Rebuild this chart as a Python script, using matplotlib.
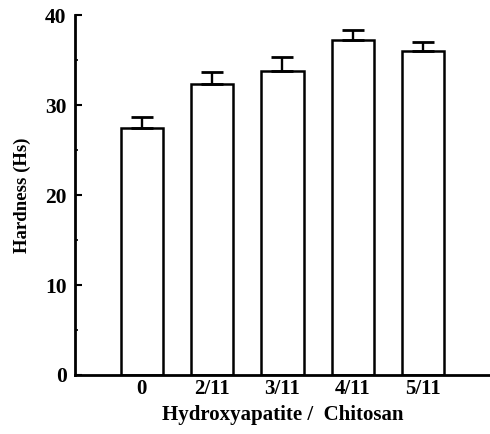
import numpy as np
import matplotlib.pyplot as plt
from matplotlib.ticker import MultipleLocator

# Hardness vs. hydroxyapatite/chitosan ratio
ratios = ['0', '2/11', '3/11', '4/11', '5/11']
hardness = [27.5, 32.3, 33.85, 37.25, 36.0]
err = [1.2, 1.4, 1.5, 1.1, 1.0]

plt.rcParams['font.family'] = ['Liberation Serif', 'DejaVu Serif']
plt.rcParams['font.weight'] = 'bold'

fig = plt.figure(figsize=(4.9, 4.34), dpi=100)
ax = fig.add_axes([0.153, 0.136, 0.847, 0.829])

x = np.arange(len(ratios))
ax.bar(x, hardness, width=0.6, color='white', edgecolor='black', linewidth=1.8,
       yerr=[np.zeros(len(err)), err],
       error_kw=dict(ecolor='black', elinewidth=1.7, capsize=8, capthick=2.0))

ax.set_xlim(-0.95, 4.95)
ax.set_ylim(0, 40)
ax.set_xticks(x)
ax.set_xticklabels(ratios, fontsize=15, fontweight='bold')
ax.set_yticks([0, 10, 20, 30, 40])
ax.yaxis.set_minor_locator(MultipleLocator(5))
ax.tick_params(axis='x', length=0, pad=3)
ax.tick_params(axis='y', which='major', direction='in', length=5, width=1.5,
               labelsize=15.5, pad=6)
ax.tick_params(axis='y', which='minor', direction='in', length=2.5, width=1.2)
for lbl in ax.get_yticklabels():
    lbl.set_fontweight('bold')

ax.spines['top'].set_visible(False)
ax.spines['right'].set_visible(False)
ax.spines['left'].set_linewidth(2.0)
ax.spines['bottom'].set_linewidth(2.0)

ax.set_xlabel('Hydroxyapatite /  Chitosan', fontsize=15, fontweight='bold', labelpad=4)
ax.set_ylabel('Hardness (Hs)', fontsize=13.5, fontweight='bold', labelpad=10)

fig.savefig('out.png', dpi=100)
